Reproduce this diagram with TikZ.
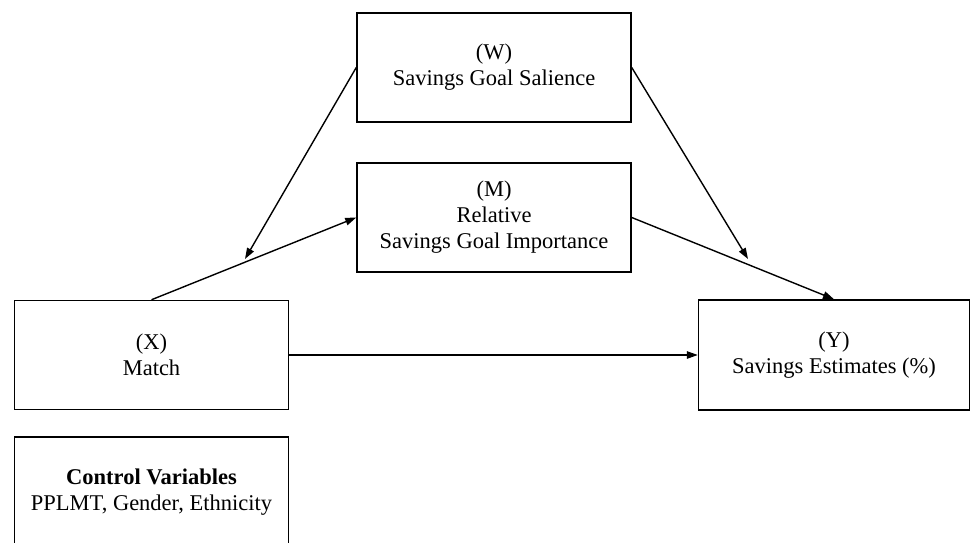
\documentclass[tikz,border=0pt]{standalone}
\usepackage{fontspec}
\setmainfont{Liberation Serif}
\usetikzlibrary{arrows.meta}
\begin{document}
\begin{tikzpicture}[x=1pt,y=-1pt,
  box/.style={draw, line width=1.5pt, minimum width=274pt, minimum height=109pt, inner sep=0pt, align=center, font=\fontsize{22.5}{26}\selectfont},
  arr/.style={line width=1.4pt, -{Triangle[length=11pt,width=7.5pt]}},
  ln/.style={line width=1.4pt}]
\useasboundingbox (0,0) rectangle (971,543);
\fill[white] (0,0) rectangle (971,543);
\node[box] (W) at (494,67.5) {(W)\\Savings Goal Salience};
\node[box] (M) at (494,217.5) {(M)\\Relative\\Savings Goal Importance};
\node[box] (X) at (151.5,355) {(X)\\Match};
\node[box, minimum width=271pt, minimum height=110pt] (Y) at (834,355) {(Y)\\Savings Estimates (\%)};
\node[box, minimum height=110pt] (C) at (151.5,492) {\textbf{Control Variables}\\PPLMT, Gender, Ethnicity};
\coordinate (a1) at (245,259);
\coordinate (a2) at (748,259);
\draw[arr] (X.north) -- (M.west);
\draw[arr] (M.east) -- (Y.north);
\draw[arr] (X.east) -- (Y.west);
\draw[arr] (W.west) -- (a1);
\draw[arr] (W.east) -- (a2);
\end{tikzpicture}
\end{document}
